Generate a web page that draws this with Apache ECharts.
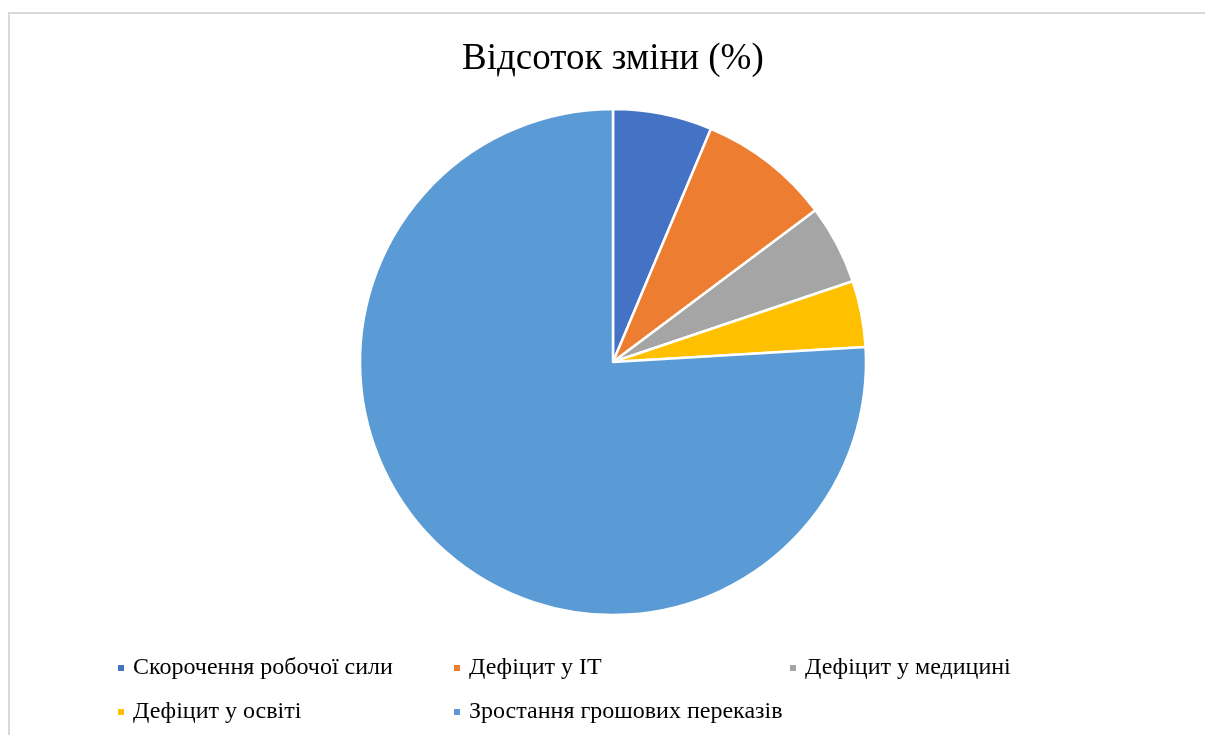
<!DOCTYPE html>
<html>
<head>
<meta charset="utf-8">
<script src="https://cdn.jsdelivr.net/npm/echarts@6/dist/echarts.min.js"></script>
<style>html,body{margin:0;padding:0;background:#fff}#c{width:1205px;height:735px}</style>
</head>
<body>
<div id="c"></div>
<script>
const categories = ['Скорочення робочої сили', 'Дефіцит у IT', 'Дефіцит у медицині', 'Дефіцит у освіті', 'Зростання грошових переказів'];
const values = [15, 20, 12, 10, 180];
const colors = ['#4472C4', '#ED7D31', '#A5A5A5', '#FFC000', '#5B9BD5'];
const titleText = 'Відсоток зміни (%)';

const chart = echarts.init(document.getElementById('c'), null, {renderer: 'canvas'});
chart.setOption({
  animation: false,
  backgroundColor: '#fff',
  color: colors,
  title: {
    text: titleText,
    left: 457,
    top: 36,
    textStyle: {fontFamily: 'Liberation Serif', fontSize: 37, fontWeight: 'normal', color: '#000'}
  },
  legend: {
    left: 111,
    top: 646,
    width: 1080,
    orient: 'horizontal',
    icon: 'rect',
    itemWidth: 8,
    itemHeight: 8,
    itemGap: 10,
    textStyle: {fontFamily: 'Liberation Serif', fontSize: 24, color: '#000', width: 309, lineHeight: 34, padding: [0,0,0,3]},
    data: categories
  },
  graphic: [{
    type: 'rect',
    shape: {x: 9, y: 13, width: 1210, height: 740},
    style: {fill: 'none', stroke: '#d9d9d9', lineWidth: 2},
    silent: true
  }],
  series: [{
    type: 'pie',
    center: [613, 362],
    radius: 253,
    startAngle: 90,
    clockwise: true,
    label: {show: false},
    labelLine: {show: false},
    itemStyle: {borderColor: '#fff', borderWidth: 2.5},
    emphasis: {disabled: true},
    data: categories.map((n, i) => ({name: n, value: values[i]}))
  }]
});
</script>
</body>
</html>
